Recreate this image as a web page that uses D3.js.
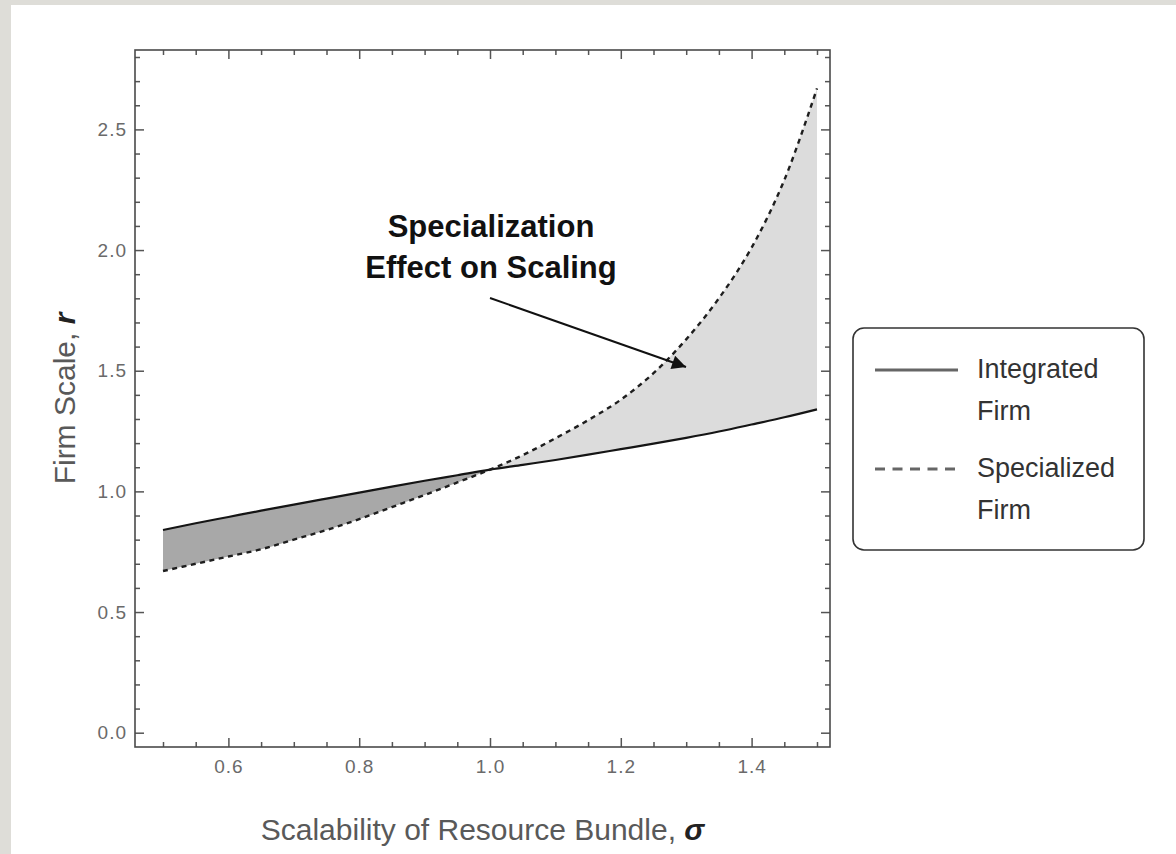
<!DOCTYPE html>
<html>
<head>
<meta charset="utf-8">
<script src="https://cdn.jsdelivr.net/npm/d3@7"></script>
<style>
    body { margin: 0; background: #deddd8; }
    svg { display: block; }
</style>
</head>
<body>
<div id="chart"></div>
<script>
var w = 1176;
var h = 854;

// sigma values
var sigma = [0.5, 0.55, 0.6, 0.65, 0.7, 0.75, 0.8, 0.85, 0.9, 0.95, 1.0,
             1.05, 1.1, 1.15, 1.2, 1.25, 1.3, 1.35, 1.4, 1.45, 1.5];
var integrated = [0.84, 0.868, 0.894, 0.92, 0.945, 0.97, 0.995, 1.02, 1.044, 1.067, 1.09,
                  1.11, 1.13, 1.152, 1.175, 1.198, 1.222, 1.248, 1.277, 1.307, 1.34];
var specialized = [0.67, 0.70, 0.73, 0.76, 0.80, 0.84, 0.885, 0.935, 0.985, 1.037, 1.09,
                   1.15, 1.22, 1.295, 1.38, 1.49, 1.63, 1.80, 2.01, 2.29, 2.67];

var xMajor = [0.6, 0.8, 1.0, 1.2, 1.4];
var yMajor = [0.0, 0.5, 1.0, 1.5, 2.0, 2.5];
var legendLabels = [["Integrated", "Firm"], ["Specialized", "Firm"]];
var noteLines = ["Specialization", "Effect on Scaling"];

var frame = { left: 135, right: 830, top: 50, bottom: 747 };

var x = d3.scaleLinear().domain([0.5, 1.5]).range([163, 817]);
var y = d3.scaleLinear().domain([0, 2.5]).range([732.7, 129.4]);

var xMinor = d3.range(0.5, 1.51, 0.05).filter(function (d) {
    return xMajor.every(function (m) { return Math.abs(m - d) > 1e-6; });
});
var yMinor = d3.range(0, 2.81, 0.1).filter(function (d) {
    return yMajor.every(function (m) { return Math.abs(m - d) > 1e-6; });
});

var data = sigma.map(function (s, i) {
    return { s: s, a: integrated[i], b: specialized[i] };
});

var svg = d3.select("#chart")
    .append("svg")
    .attr("width", w)
    .attr("height", h);

svg.append("rect")
    .attr("x", 11).attr("y", 5)
    .attr("width", w - 11).attr("height", h - 5)
    .attr("fill", "white");

// shaded areas between the two curves
var area = d3.area()
    .x(function (d) { return x(d.s); })
    .y0(function (d) { return y(d.b); })
    .y1(function (d) { return y(d.a); })
    .curve(d3.curveCatmullRom);

svg.append("path")
    .datum(data.filter(function (d) { return d.s <= 1.0; }))
    .attr("d", area)
    .attr("fill", "#a8a8a8");

svg.append("path")
    .datum(data.filter(function (d) { return d.s >= 1.0; }))
    .attr("d", area)
    .attr("fill", "#dcdcdc");

var line = d3.line()
    .x(function (d) { return x(d[0]); })
    .y(function (d) { return y(d[1]); })
    .curve(d3.curveCatmullRom);

svg.append("path")
    .attr("d", line(sigma.map(function (s, i) { return [s, integrated[i]]; })))
    .attr("fill", "none")
    .attr("stroke", "#151515")
    .attr("stroke-width", 2.2);

svg.append("path")
    .attr("d", line(sigma.map(function (s, i) { return [s, specialized[i]]; })))
    .attr("fill", "none")
    .attr("stroke", "#1e1e1e")
    .attr("stroke-width", 2.4)
    .attr("stroke-dasharray", "5,4.5");

// frame with ticks on all sides
var fmt = d3.format(".1f");

function styleAxis(g) {
    g.select(".domain").remove();
    g.selectAll(".tick line").attr("stroke", "#555").attr("stroke-width", 1.5);
    g.selectAll("text")
        .attr("font-family", "Liberation Sans, Arial, sans-serif")
        .attr("font-size", "19px")
        .attr("letter-spacing", "1px")
        .attr("fill", "#6a6a6a");
}

svg.append("g")
    .attr("transform", "translate(0," + frame.bottom + ")")
    .call(d3.axisBottom(x).tickValues(xMajor).tickFormat(fmt).tickSizeInner(-9).tickPadding(13))
    .call(styleAxis);
svg.append("g")
    .attr("transform", "translate(0," + frame.bottom + ")")
    .call(d3.axisBottom(x).tickValues(xMinor).tickFormat("").tickSizeInner(-5))
    .call(styleAxis);
svg.append("g")
    .attr("transform", "translate(0," + frame.top + ")")
    .call(d3.axisTop(x).tickValues(xMajor).tickFormat("").tickSizeInner(-9))
    .call(styleAxis);
svg.append("g")
    .attr("transform", "translate(0," + frame.top + ")")
    .call(d3.axisTop(x).tickValues(xMinor).tickFormat("").tickSizeInner(-5))
    .call(styleAxis);

svg.append("g")
    .attr("transform", "translate(" + frame.left + ",0)")
    .call(d3.axisLeft(y).tickValues(yMajor).tickFormat(fmt).tickSizeInner(-9).tickPadding(8))
    .call(styleAxis);
svg.append("g")
    .attr("transform", "translate(" + frame.left + ",0)")
    .call(d3.axisLeft(y).tickValues(yMinor).tickFormat("").tickSizeInner(-5))
    .call(styleAxis);
svg.append("g")
    .attr("transform", "translate(" + frame.right + ",0)")
    .call(d3.axisRight(y).tickValues(yMajor).tickFormat("").tickSizeInner(-9))
    .call(styleAxis);
svg.append("g")
    .attr("transform", "translate(" + frame.right + ",0)")
    .call(d3.axisRight(y).tickValues(yMinor).tickFormat("").tickSizeInner(-5))
    .call(styleAxis);

svg.append("rect")
    .attr("x", frame.left).attr("y", frame.top)
    .attr("width", frame.right - frame.left)
    .attr("height", frame.bottom - frame.top)
    .attr("fill", "none")
    .attr("stroke", "#4a4a4a")
    .attr("stroke-width", 1.6);

// axis titles
var xt = svg.append("text")
    .attr("x", (frame.left + frame.right) / 2)
    .attr("y", 840)
    .attr("text-anchor", "middle")
    .attr("font-family", "Liberation Sans, Arial, sans-serif")
    .attr("font-size", "30px")
    .attr("fill", "#595959");
xt.append("tspan").text("Scalability of Resource Bundle, ");
xt.append("tspan").text("σ").attr("font-weight", "bold").attr("font-style", "italic").attr("fill", "#222");

var yt = svg.append("text")
    .attr("transform", "translate(75," + (frame.top + frame.bottom) / 2 + ") rotate(-90)")
    .attr("text-anchor", "middle")
    .attr("font-family", "Liberation Sans, Arial, sans-serif")
    .attr("font-size", "30px")
    .attr("fill", "#595959");
yt.append("tspan").text("Firm Scale, ");
yt.append("tspan").text("r").attr("font-weight", "bold").attr("font-style", "italic").attr("fill", "#222");

// annotation
svg.append("defs").append("marker")
    .attr("id", "head")
    .attr("viewBox", "0 0 10 10")
    .attr("refX", 10).attr("refY", 5)
    .attr("markerWidth", 22).attr("markerHeight", 14)
    .attr("markerUnits", "userSpaceOnUse")
    .attr("orient", "auto")
    .append("path")
    .attr("d", "M0,0L10,5L0,10z")
    .attr("fill", "#111");

svg.append("line")
    .attr("x1", 490).attr("y1", 298)
    .attr("x2", 686).attr("y2", 367)
    .attr("stroke", "#111")
    .attr("stroke-width", 2)
    .attr("marker-end", "url(#head)");

svg.selectAll(".note")
    .data(noteLines)
    .enter()
    .append("text")
    .attr("class", "note")
    .attr("x", 491)
    .attr("y", function (d, i) { return 237 + i * 41; })
    .attr("text-anchor", "middle")
    .attr("font-family", "Liberation Sans, Arial, sans-serif")
    .attr("font-weight", "bold")
    .attr("font-size", "31px")
    .attr("fill", "#111")
    .text(function (d) { return d; });

// legend
var legend = svg.append("g");
legend.append("rect")
    .attr("x", 853).attr("y", 328)
    .attr("width", 291).attr("height", 222)
    .attr("rx", 11)
    .attr("fill", "white")
    .attr("stroke", "#333")
    .attr("stroke-width", 1.6);

var item = legend.selectAll(".item")
    .data(legendLabels)
    .enter()
    .append("g")
    .attr("class", "item")
    .attr("transform", function (d, i) { return "translate(0," + i * 99 + ")"; });

item.append("line")
    .attr("x1", 875).attr("x2", 958)
    .attr("y1", 370).attr("y2", 370)
    .attr("stroke", "#666")
    .attr("stroke-width", 3)
    .attr("stroke-dasharray", function (d, i) { return i ? "10,7.5" : null; });

item.selectAll("text")
    .data(function (d) { return d; })
    .enter()
    .append("text")
    .attr("x", 977)
    .attr("y", function (d, i) { return 378 + i * 42; })
    .attr("font-family", "Liberation Sans, Arial, sans-serif")
    .attr("font-size", "27px")
    .attr("fill", "#333")
    .text(function (d) { return d; });
</script>
</body>
</html>
